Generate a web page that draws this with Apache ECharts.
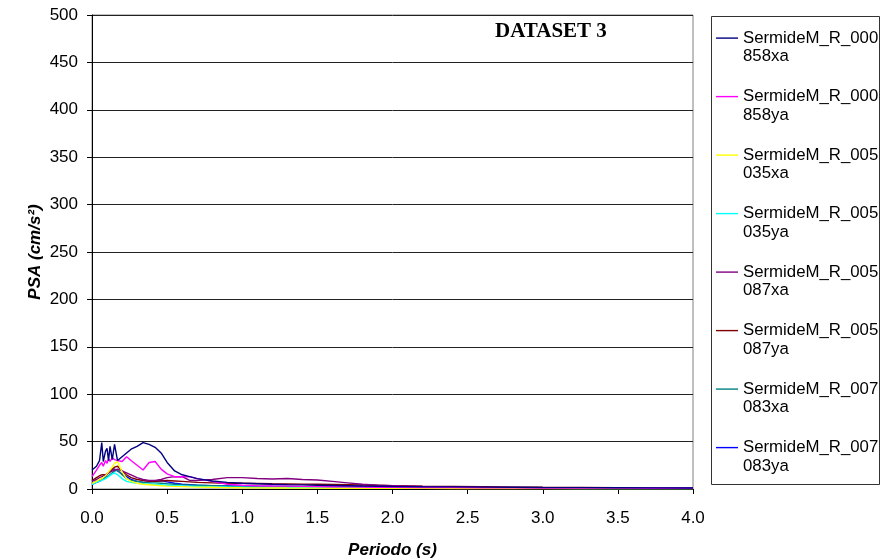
<!DOCTYPE html>
<html>
<head>
<meta charset="utf-8">
<script src="https://cdn.jsdelivr.net/npm/echarts@6/dist/echarts.min.js"></script>
<style>
  html, body { margin: 0; padding: 0; background: #fff; }
  #chart { width: 884px; height: 560px; }
</style>
</head>
<body>
<div id="chart"></div>
<script>
// Spectral periods (s) shared by all records
const periods = [0.0, 0.03, 0.05, 0.065, 0.075, 0.09, 0.1, 0.11, 0.12, 0.135, 0.15, 0.17, 0.2, 0.23, 0.26, 0.3, 0.34, 0.38, 0.42, 0.46, 0.5, 0.55, 0.6, 0.65, 0.7, 0.8, 0.9, 1.0, 1.1, 1.2, 1.3, 1.4, 1.5, 1.6, 1.7, 1.8, 1.9, 2.0, 2.2, 2.4, 2.6, 2.8, 3.0, 3.25, 3.5, 3.75, 4.0];

// PSA values (cm/s^2), one array per record
const psa000858xa = [20, 24, 30, 49, 29, 40, 43, 30, 45, 31, 47, 30, 34, 38, 42, 45, 49, 47, 44, 38, 28, 19, 15, 13, 11, 8.5, 7, 6, 5.5, 5, 4.6, 4.3, 4, 3.7, 3.4, 3.1, 2.9, 2.7, 2.4, 2.2, 2, 1.8, 1.6, 1.4, 1.3, 1.2, 1.1];
const psa000858ya = [13, 20, 25, 28, 24, 30, 27, 32, 29, 33, 31, 30, 29, 34, 30, 25, 20, 28, 29, 21, 16, 13, 13, 13, 11, 8, 5, 4, 3.5, 3.2, 3, 2.8, 2.6, 2.4, 2.2, 2, 1.9, 1.8, 1.6, 1.4, 1.3, 1.2, 1.1, 1, 0.9, 0.8, 0.8];
const psa005035xa = [6, 8, 10, 11, 12, 14, 16, 18, 20, 23, 27, 29, 18, 11, 8, 6, 5, 4.5, 4, 3.5, 3, 2.8, 2.5, 2.2, 2, 1.8, 1.5, 1.3, 1.2, 1.1, 1, 0.95, 0.9, 0.85, 0.8, 0.75, 0.7, 0.7, 0.65, 0.6, 0.55, 0.5, 0.5, 0.45, 0.45, 0.4, 0.4];
const psa005035ya = [5, 7, 8, 9, 10, 11, 12, 13, 15, 16, 17, 15, 11, 8, 7, 6, 5.5, 5, 5, 4.5, 4, 3.6, 3.2, 3, 2.8, 2.4, 2.1, 1.9, 1.7, 1.6, 1.5, 1.4, 1.3, 1.2, 1.1, 1.05, 1, 0.95, 0.9, 0.8, 0.75, 0.7, 0.65, 0.6, 0.55, 0.5, 0.5];
const psa005087xa = [8, 10, 12, 13, 14, 15, 16, 17, 18, 19, 20, 21, 19, 17, 15, 12, 10, 9, 9, 10, 12, 13, 13, 9, 9, 10, 12, 12, 11, 10.5, 11, 10, 9.5, 8, 6.5, 5, 4, 3.5, 2.6, 2.2, 1.9, 1.7, 1.5, 1.3, 1.2, 1.1, 1];
const psa005087ya = [9, 12, 14, 15, 15, 15, 16, 17, 19, 21, 23, 24, 19, 15, 12, 10, 9, 8, 8, 8.5, 9, 8.5, 8, 7.5, 7, 6.5, 6, 6, 5.8, 5.5, 5.3, 5.1, 5, 4.8, 4.5, 4.2, 3.9, 3.6, 3, 2.6, 2.3, 2, 1.8, 1.6, 1.4, 1.3, 1.2];
const psa007083xa = [6, 8, 9, 10, 11, 12, 13, 14, 15, 17, 19, 20, 15, 11, 9, 8, 7, 6.5, 6.5, 6, 5.5, 5, 4.5, 4.2, 4, 3.5, 3.2, 3, 2.8, 2.6, 2.4, 2.2, 2, 1.9, 1.8, 1.7, 1.6, 1.5, 1.3, 1.2, 1.1, 1, 0.9, 0.85, 0.8, 0.75, 0.7];
const psa007083ya = [5, 7, 8, 10, 11, 13, 15, 17, 19, 21, 21, 19, 16, 13, 10, 8, 7, 7.5, 8.5, 9, 7.5, 6, 5, 4.5, 4, 3.6, 3.3, 3, 2.8, 2.7, 2.6, 2.5, 2.4, 2.3, 2.2, 2.1, 2, 1.9, 1.8, 1.7, 1.6, 1.5, 1.4, 1.3, 1.2, 1.2, 1.1];

const recordNames = [
  'SermideM_R_000858xa', 'SermideM_R_000858ya',
  'SermideM_R_005035xa', 'SermideM_R_005035ya',
  'SermideM_R_005087xa', 'SermideM_R_005087ya',
  'SermideM_R_007083xa', 'SermideM_R_007083ya'
];
const recordValues = [psa000858xa, psa000858ya, psa005035xa, psa005035ya, psa005087xa, psa005087ya, psa007083xa, psa007083ya];
const recordColors = ['#000080', '#FF00FF', '#FFFF00', '#00FFFF', '#800080', '#800000', '#008080', '#0000FF'];

const xTicks = [0, 0.5, 1, 1.5, 2, 2.5, 3, 3.5, 4];
const yTicks = [0, 50, 100, 150, 200, 250, 300, 350, 400, 450, 500];

const FONT = "'Liberation Sans', Arial, sans-serif";
const LINE_H = 18.4;

const series = recordNames.map((name, i) => ({
  name: name,
  type: 'line',
  symbol: 'none',
  smooth: false,
  data: periods.map((p, k) => [p, recordValues[i][k]]),
  lineStyle: { width: 1.4, color: recordColors[i] },
  itemStyle: { color: recordColors[i] },
  z: 10 - i
}));

const chart = echarts.init(document.getElementById('chart'), null, { renderer: 'canvas' });
chart.setOption({
  animation: false,
  backgroundColor: '#fff',
  title: {
    text: 'DATASET 3',
    left: 495,
    top: 21,
    padding: 0,
    textStyle: {
      fontFamily: "'Liberation Serif', 'Times New Roman', serif",
      fontWeight: 'bold',
      fontSize: 21,
      color: '#000'
    }
  },
  grid: {
    left: 92,
    right: 191,
    top: 15,
    bottom: 71,
    outerBoundsMode: 'none',
    containLabel: false,
    show: true,
    borderColor: '#808080',
    borderWidth: 1,
    backgroundColor: 'transparent'
  },
  // frame around the legend
  graphic: [{
    type: 'rect',
    shape: { x: 711.5, y: 16.5, width: 168, height: 468 },
    style: { fill: 'none', stroke: '#333', lineWidth: 1 },
    z: 1
  }],
  legend: {
    orient: 'vertical',
    left: 716,
    top: 10.5,
    padding: 0,
    itemGap: 3.3,
    itemWidth: 22,
    itemHeight: 1.4,
    itemTextGap: 4,
    icon: 'rect',
    data: recordNames,
    // a blank first line keeps the key line level with the first text line
    formatter: (name) => '{s| }\n{a|' + name.slice(0, 14) + '}\n{a|' + name.slice(14) + '}',
    textStyle: {
      fontFamily: FONT,
      fontSize: 16.8,
      color: '#000',
      lineHeight: LINE_H,
      rich: {
        s: { fontFamily: FONT, fontSize: 16.8, lineHeight: LINE_H },
        a: { fontFamily: FONT, fontSize: 16.8, lineHeight: LINE_H, color: '#000' }
      }
    }
  },
  xAxis: {
    type: 'value',
    min: xTicks[0],
    max: xTicks[xTicks.length - 1],
    interval: 0.5,
    name: 'Periodo (s)',
    nameLocation: 'middle',
    nameMoveOverlap: false,
    nameGap: 53,
    nameTextStyle: {
      fontFamily: FONT,
      fontSize: 17,
      fontWeight: 'bold',
      fontStyle: 'italic',
      color: '#000'
    },
    axisLine: { show: true, onZero: false, lineStyle: { color: '#000', width: 1 } },
    axisTick: { show: true, inside: false, length: 5, lineStyle: { color: '#000' } },
    axisLabel: {
      fontFamily: FONT,
      fontSize: 17,
      color: '#000',
      margin: 21,
      formatter: (v) => v.toFixed(1)
    },
    splitLine: { show: false }
  },
  yAxis: {
    type: 'value',
    min: yTicks[0],
    max: yTicks[yTicks.length - 1],
    interval: 50,
    name: 'PSA (cm/s²)',
    nameLocation: 'middle',
    nameRotate: 90,
    nameMoveOverlap: false,
    nameGap: 48,
    nameTextStyle: {
      fontFamily: FONT,
      fontSize: 17,
      fontWeight: 'bold',
      fontStyle: 'italic',
      color: '#000'
    },
    axisLine: { show: true, lineStyle: { color: '#000', width: 1 } },
    axisTick: { show: true, inside: false, length: 5, lineStyle: { color: '#000' } },
    axisLabel: {
      fontFamily: FONT,
      fontSize: 17,
      color: '#000',
      margin: 14
    },
    splitLine: { show: true, lineStyle: { color: '#222', width: 1 } }
  },
  series: series
});
</script>
</body>
</html>
